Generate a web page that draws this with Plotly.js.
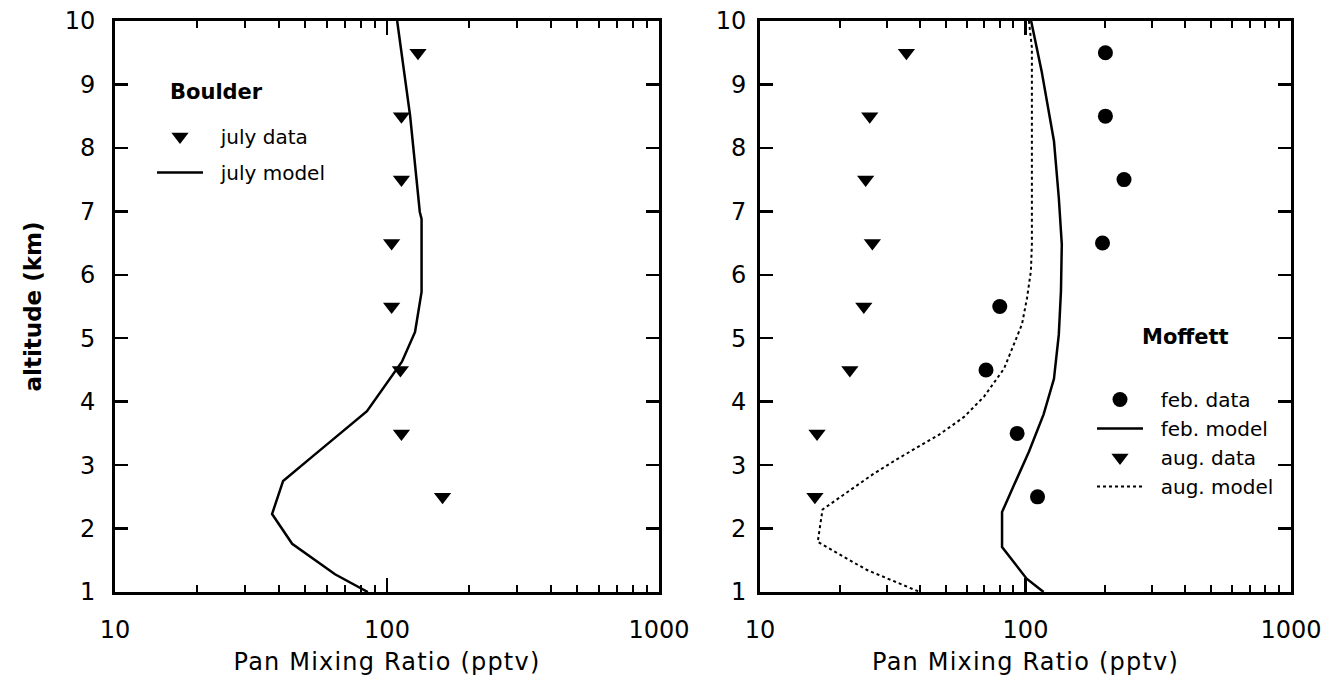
<!DOCTYPE html>
<html><head><meta charset="utf-8">
<script src="https://cdn.plot.ly/plotly-3.0.1.min.js"></script>
<style>html,body{margin:0;padding:0;background:#fff}#chart{width:1342px;height:694px}
text.xtitle, text.x2title {letter-spacing: 1.2px;}
</style>
</head><body><div id="chart"></div>
<script>
// ---- Boulder (left panel) ----
const dataAlt = [9.5, 8.5, 7.5, 6.5, 5.5, 4.5, 3.5, 2.5];
const boulderJulyData = [130, 113, 113, 104, 104, 112, 113, 160];
const boulderModelAlt = [10.0, 8.51, 6.99, 6.88, 5.73, 5.10, 4.63, 3.85, 3.13, 2.75, 2.23, 1.76, 1.28, 1.0];
const boulderModelPan = [109, 121.6, 132, 134, 134, 126.8, 113.5, 84.4, 53, 41.5, 37.8, 44.8, 64.4, 85];

// ---- Moffett (right panel) ----
const moffettFebData = [200, 200, 235, 195, 80, 71, 93, 111];
const moffettAugData = [35.6, 25.9, 25.0, 26.5, 24.6, 21.8, 16.4, 16.1];
const febModelAlt = [10.0, 9.21, 8.11, 7.21, 6.48, 5.74, 5.06, 4.36, 3.80, 3.21, 2.69, 2.26, 1.71, 1.43, 1.21, 1.0];
const febModelPan = [105, 115, 128, 133.5, 137, 136, 133.5, 128, 117, 103, 90.6, 81.6, 81.6, 92, 101, 117];
const augModelAlt = [10.0, 9.58, 8.06, 7.0, 6.48, 6.06, 5.63, 5.22, 4.52, 4.08, 3.76, 3.48, 3.09, 2.85, 2.30, 1.79, 1.35, 1.0];
const augModelPan = [103, 105.7, 105.7, 105.7, 105.7, 104.8, 101.3, 97, 83, 69.8, 58.7, 47.3, 32.7, 26.5, 17.2, 16.5, 25.2, 40];

const xTickVals = [10, 100, 1000];
const xTickText = ['10', '100', '1000'];
const xMinorVals = [20,30,40,50,60,70,80,90,200,300,400,500,600,700,800,900];
const yTickVals = [1,2,3,4,5,6,7,8,9,10];

const FONT = 'DejaVu Sans, Arial, sans-serif';
const PAD = '\u00a0\u00a0';

const traces = [
  {x: boulderJulyData, y: dataAlt, xaxis: 'x', yaxis: 'y', mode: 'markers', name: PAD + 'july data',
   marker: {symbol: 'triangle-down', size: 15, color: '#000'}, legend: 'legend', legendgroup: 'a'},
  {x: boulderModelPan, y: boulderModelAlt, xaxis: 'x', yaxis: 'y', mode: 'lines', name: PAD + 'july model',
   line: {color: '#000', width: 2.5}, legend: 'legend', legendgroup: 'b'},
  {x: moffettFebData, y: dataAlt, xaxis: 'x2', yaxis: 'y2', mode: 'markers', name: PAD + 'feb. data',
   marker: {symbol: 'circle', size: 15, color: '#000'}, legend: 'legend2'},
  {x: febModelPan, y: febModelAlt, xaxis: 'x2', yaxis: 'y2', mode: 'lines', name: PAD + 'feb. model',
   line: {color: '#000', width: 2.5}, legend: 'legend2'},
  {x: moffettAugData, y: dataAlt, xaxis: 'x2', yaxis: 'y2', mode: 'markers', name: PAD + 'aug. data',
   marker: {symbol: 'triangle-down', size: 15, color: '#000'}, legend: 'legend2'},
  {x: augModelPan, y: augModelAlt, xaxis: 'x2', yaxis: 'y2', mode: 'lines', name: PAD + 'aug. model',
   line: {color: '#000', width: 2, dash: 'dot'}, legend: 'legend2'}
];

function xAxis(domain, anchor) {
  return {
    type: 'log', range: [1, 3], domain: domain, anchor: anchor,
    tickmode: 'array', tickvals: xTickVals, ticktext: xTickText,
    ticks: 'inside', ticklen: 14, tickwidth: 2.5, tickcolor: '#000',
    minor: {tickmode: 'array', tickvals: xMinorVals, ticks: 'inside', ticklen: 7, tickwidth: 2, tickcolor: '#000'},
    showline: true, linewidth: 3, linecolor: '#000', mirror: 'ticks',
    showgrid: false, zeroline: false,
    tickfont: {family: FONT, size: 24, color: '#000'},
    ticklabelstandoff: 14,
    title: {text: 'Pan Mixing Ratio (pptv)', font: {family: FONT, size: 24, color: '#000'}, standoff: 11},
    automargin: false
  };
}
function yAxis(domain, anchor, withTitle) {
  const ax = {
    range: [1, 10], domain: domain, anchor: anchor,
    tickmode: 'array', tickvals: yTickVals,
    ticks: 'inside', ticklen: 13, tickwidth: 2.5, tickcolor: '#000',
    showline: true, linewidth: 3, linecolor: '#000', mirror: 'ticks',
    showgrid: false, zeroline: false,
    tickfont: {family: FONT, size: 24, color: '#000'},
    ticklabelstandoff: withTitle ? 12 : 6,
    automargin: false
  };
  if (withTitle) ax.title = {text: '<b>altitude (km)</b>', font: {family: FONT, size: 23, color: '#000'}, standoff: 17};
  return ax;
}

const layout = {
  width: 1342, height: 694,
  margin: {l: 0, r: 0, t: 21, b: 102},
  paper_bgcolor: '#fff', plot_bgcolor: '#fff',
  showlegend: true,
  xaxis: xAxis([115/1342, 659/1342], 'y'),
  yaxis: yAxis([0, 1], 'x', true),
  xaxis2: xAxis([760/1342, 1291/1342], 'y2'),
  yaxis2: yAxis([0, 1], 'x2', false),
  legend: {x: 152/1342, xanchor: 'left', y: (592-117)/571, yanchor: 'top',
    bgcolor: 'rgba(0,0,0,0)', borderwidth: 0, itemwidth: 46, tracegroupgap: 7,
    font: {family: FONT, size: 20, color: '#000'}},
  legend2: {x: 1092/1342, xanchor: 'left', y: (592-380)/571, yanchor: 'top',
    bgcolor: 'rgba(0,0,0,0)', borderwidth: 0, itemwidth: 46,
    font: {family: FONT, size: 20, color: '#000'}},
  annotations: [
    {xref: 'paper', yref: 'paper', x: 168/1342, y: (592-92)/571, xanchor: 'left', yanchor: 'middle',
     text: '<b>Boulder</b>', showarrow: false, font: {family: FONT, size: 21, color: '#000'}},
    {xref: 'paper', yref: 'paper', x: 1140/1342, y: (592-337)/571, xanchor: 'left', yanchor: 'middle',
     text: '<b>Moffett</b>', showarrow: false, font: {family: FONT, size: 21, color: '#000'}}
  ]
};

Plotly.newPlot('chart', traces, layout, {displayModeBar: false, staticPlot: true});
</script>
</body></html>
